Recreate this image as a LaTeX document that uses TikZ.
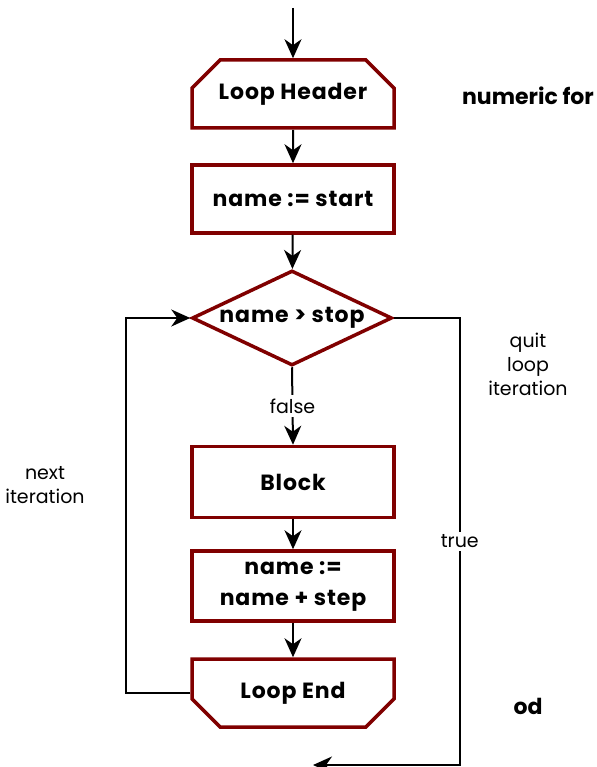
\documentclass[tikz,border=0pt]{standalone}
\usepackage{fontspec}
\setmainfont{Poppins}
\usepackage{xcolor}
\usepackage{tikz}
\usetikzlibrary{arrows.meta,positioning,shapes.geometric,shapes.misc,calc}

\definecolor{boxred}{HTML}{800000}

\begin{document}
\begin{tikzpicture}[>={Stealth[length=19pt,width=17pt,inset=6pt]},x=1pt,y=-1pt,
  box/.style={draw=boxred,line width=3.5pt,fill=white,minimum width=202pt,minimum height=68pt,
    align=center,font=\fontsize{22}{31}\selectfont\bfseries\addfontfeature{LetterSpace=4},inner sep=0pt},
  chamf/.style={box,chamfered rectangle,chamfered rectangle sep=17pt},
  flow/.style={line width=2pt},
  small/.style={font=\fontsize{19}{24}\selectfont,align=center},
  kw/.style={font=\fontsize{22}{26}\selectfont\bfseries}]
\useasboundingbox (0,0) rectangle (596,767);
% Loop body
\node[chamf,chamfered rectangle corners={north west,north east}] (head) at (293,94) {Loop Header};
\node[box] (init) at (293,199) {name := start};
\node[box,diamond,minimum width=200pt,minimum height=95pt,aspect=2.1] (test) at (292,318) {name > stop};
\node[box,minimum height=71pt] (block) at (293,482) {Block};
\node[box,minimum height=70pt] (incr) at (293,586) {name :=\\name + step};
\node[chamf,chamfered rectangle corners={south west,south east}] (tail) at (293,693) {Loop End};
% side notes
\node[kw] (numfor) at (528,96) {numeric for};
\node[small] (quit) at (528,364) {quit\\loop\\iteration};
\node[small] (next) at (45,485) {next\\iteration};
\node[kw] (od) at (528,706) {od};
% connectors
\coordinate (entry) at (293,8);
\coordinate (exit) at (313,765);
\draw[flow,->] (entry) -- (head);
\draw[flow,->] (head) -- (init);
\draw[flow,->] (init) -- (test);
\draw[flow,->] (test.south) -- node[small,fill=white] {false} (block.north);
\draw[flow,->] (block) -- (incr);
\draw[flow,->] (incr) -- (tail);
\draw[flow,->] (tail.west) -- ++(-64,0) |- (test.west);
\draw[flow,->] (test.east) -- ++(66,0) |- node[small,fill=white,pos=0.25] {true} (exit);
\end{tikzpicture}
\end{document}
